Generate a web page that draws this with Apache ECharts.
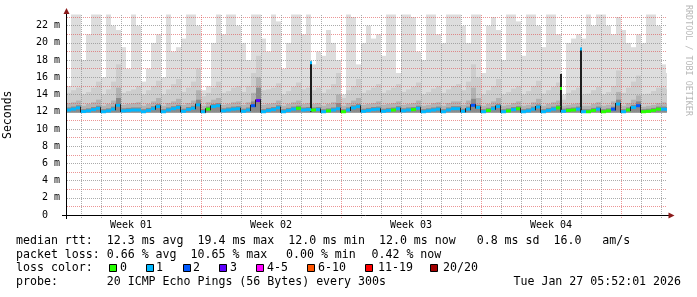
<!DOCTYPE html>
<html><head><meta charset="utf-8">
<script src="https://cdn.jsdelivr.net/npm/echarts@6/dist/echarts.min.js"></script>
<style>html,body{margin:0;padding:0;background:#fff}#c{width:697px;height:297px}</style>
</head><body><div id="c"></div>
<script>
// ---------------- data ----------------
const weekLabels = ['Week 01', 'Week 02', 'Week 03', 'Week 04'];
const weekLabelDays = [3.5, 10.5, 17.5, 24.5];          // days since start of Week 01
const dayLines = [1,2,3,4,5,6,7,8,9,10,11,12,13,14,15,16,17,18,19,20,21,22,23,24,25,26,27,28,29,30];
const weekLineDays = [7, 14, 21, 28];
const xRange = [0.3, 30.3];                               // visible time range (days)
const yMaxMs = 23.3;
const lossLabels = ['0', '1', '2', '3', '4-5', '6-10', '11-19', '20/20'];
const lossColors = ['#26ff00', '#00b8ff', '#0059ff', '#5e00ff', '#ff00ff', '#ff5500', '#ff0000', '#a00000'];

const firstStepDay = 0.25;   // start of first RRD step (days)
const stepDays = 0.25;       // step length (days)
const pingMin = 11.9;        // bottom of the smoke (ms)

// top of the smoke (max ping, ms) per step
const pingMax = [
  15.0, 23.3, 23.3, 18, 21, 23.3, 23.3, 16, 23.3, 22,
  21.5, 19.5, 17, 23.3, 22, 15.5, 17, 20, 21, 16,
  23.3, 19, 19.5, 20.5, 23.3, 23.3, 22, 14.5, 15, 20,
  23.3, 21, 23.3, 23.3, 22, 20, 18, 23.3, 23.3, 20.5,
  19, 23.3, 22.5, 17, 20, 23.3, 23.3, 21, 23.3, 17.5,
  19, 18.5, 21.5, 20, 18, 14, 23.3, 23, 17.5, 20,
  22, 20.5, 21, 18.5, 23.3, 23.3, 16.5, 23.3, 23.3, 23,
  19, 18, 23.3, 23.3, 21, 20, 23.3, 23.3, 23.3, 22,
  20, 23.3, 23.3, 16.5, 22, 23, 21.5, 18, 23.3, 23.3,
  22.5, 18.5, 23.3, 23.3, 22, 19.5, 23.3, 23.3, 21, 14,
  20, 20.5, 21, 20.5, 23.3, 22, 23.3, 23.3, 22, 21,
  23, 21.5, 20, 19.5, 21, 20, 23.3, 23.3, 22, 17.5,
  16.5
];
// upper smoke band top (ms)
const pingUpper = [
  14.2, 14.5, 14.8,
  14.0, 14.3, 14.8, 15.5,  14.0, 14.6, 15.5, 17.5,  14.2, 14.4, 14.6, 15.0,  14.0, 14.5, 15.0, 15.6,
  14.0, 14.6, 15.2, 15.8,  14.3, 14.8, 15.5, 17.0,  13.8, 14.2, 14.8, 15.5,  14.2, 14.4, 14.8, 15.0,
  14.3, 15.0, 16.5, 18.5,  14.5, 14.6, 14.8, 15.3,  14.0, 14.4, 14.9, 15.4,  14.6, 14.8, 14.5, 14.8,
  14.2, 14.6, 15.2, 16.5,  13.6, 14.5, 15.0, 15.8,  14.2, 14.5, 14.8, 15.2,  14.2, 14.5, 14.8, 15.2,
  14.3, 14.6, 14.9, 15.4,  14.0, 14.3, 14.7, 15.0,  14.2, 14.6, 15.0, 15.2,  14.5, 15.5, 17.5, 16.0,
  14.0, 14.5, 15.0, 15.8,  14.0, 14.3, 14.7, 15.0,  14.0, 14.4, 15.0, 15.6,  14.1, 14.5, 14.9, 15.4,
  13.4, 14.2, 14.5, 14.8,  14.0, 14.1, 14.5, 14.9,  14.0, 14.3, 15.0, 16.8,  14.2, 14.8, 15.5, 16.2,
  14.0, 14.1, 14.4, 14.8,
  14.8, 14.6
];
// middle smoke band top (ms)
const pingMid = [
  13.0, 13.1, 13.3,
  12.7, 12.9, 13.1, 13.4,  12.7, 12.9, 13.3, 14.8,  12.8, 12.9, 13.0, 13.1,  12.7, 12.9, 13.2, 13.6,
  12.7, 13.0, 13.2, 13.5,  12.8, 13.0, 13.3, 14.5,  12.7, 13.1, 13.4, 13.6,  12.8, 12.9, 13.1, 13.2,
  12.8, 13.1, 14.2, 16.0,  12.8, 12.9, 13.0, 13.3,  12.7, 12.9, 13.1, 13.3,  12.9, 13.0, 12.9, 13.0,
  12.7, 12.9, 13.1, 14.0,  12.7, 13.0, 13.3, 13.6,  12.8, 12.9, 13.0, 13.2,  12.8, 12.9, 13.0, 13.2,
  12.8, 12.9, 13.0, 13.3,  12.7, 12.8, 13.0, 13.1,  12.7, 13.0, 13.2, 13.2,  12.8, 13.3, 14.8, 13.6,
  12.7, 12.9, 13.2, 13.6,  12.7, 12.8, 13.0, 13.2,  12.7, 12.8, 13.1, 13.5,  12.7, 12.9, 13.1, 13.3,
  12.7, 12.8, 12.9, 13.0,  12.7, 12.7, 12.9, 13.1,  12.7, 12.8, 13.2, 14.3,  12.7, 13.0, 13.4, 13.9,
  12.6, 12.7, 12.8, 13.0,
  13.1, 13.0
];
// dense core of the smoke (ms)
const pingCore = [
  12.5, 12.6, 12.75,
  12.3, 12.4, 12.55, 12.7,  12.3, 12.4, 12.6, 13.6,  12.4, 12.45, 12.5, 12.5,  12.3, 12.45, 12.65, 12.9,
  12.3, 12.5, 12.65, 12.8,  12.35, 12.55, 12.7, 13.4,  12.3, 12.6, 12.9, 13.0,  12.4, 12.5, 12.6, 12.65,
  12.35, 12.5, 13.2, 14.8,  12.3, 12.45, 12.55, 12.75,  12.3, 12.45, 12.6, 12.7,  12.5, 12.55, 12.5, 12.55,
  12.3, 12.4, 12.5, 13.0,  12.3, 12.5, 12.75, 12.9,  12.35, 12.45, 12.55, 12.6,  12.35, 12.45, 12.5, 12.65,
  12.4, 12.5, 12.55, 12.7,  12.3, 12.4, 12.5, 12.6,  12.3, 12.5, 12.65, 12.65,  12.35, 12.6, 13.5, 12.8,
  12.3, 12.45, 12.65, 12.9,  12.3, 12.4, 12.55, 12.65,  12.3, 12.4, 12.6, 12.85,  12.3, 12.45, 12.6, 12.75,
  12.35, 12.45, 12.5, 12.6,  12.3, 12.3, 12.45, 12.6,  12.3, 12.4, 12.6, 13.4,  12.3, 12.5, 12.8, 13.2,
  12.3, 12.35, 12.45, 12.6,
  12.6, 12.55
];
// median rtt (ms)
const median = [
  12.2, 12.3, 12.45,
  12.02, 12.1, 12.25, 12.4,  12.0, 12.1, 12.3, 12.75,  12.1, 12.15, 12.2, 12.2,  12.0, 12.15, 12.35, 12.6,
  12.0, 12.2, 12.35, 12.5,  12.05, 12.25, 12.4, 12.8,  12.0, 12.3, 12.6, 12.7,  12.1, 12.2, 12.3, 12.35,
  12.05, 12.2, 12.7, 13.3,  12.0, 12.15, 12.25, 12.45,  12.0, 12.15, 12.3, 12.4,  12.2, 12.25, 12.2, 12.25,
  12.0, 12.1, 12.2, 12.35,  12.0, 12.2, 12.45, 12.6,  12.05, 12.15, 12.25, 12.3,  12.05, 12.15, 12.2, 12.35,
  12.1, 12.2, 12.25, 12.4,  12.0, 12.1, 12.2, 12.3,  12.0, 12.2, 12.35, 12.35,  12.05, 12.3, 12.75, 12.5,
  12.0, 12.15, 12.35, 12.6,  12.0, 12.1, 12.25, 12.35,  12.0, 12.1, 12.3, 12.55,  12.0, 12.15, 12.3, 12.45,
  12.05, 12.15, 12.2, 12.3,  12.0, 12.0, 12.15, 12.3,  12.0, 12.1, 12.3, 12.9,  12.0, 12.2, 12.5, 12.7,
  12.0, 12.05, 12.15, 12.3,
  12.3, 12.25
];
// loss colour class per step (index into lossLabels)
const loss = [
  1,1,1,1,1,1,1,1,1,1,
  1,1,1,1,1,1,1,1,1,1,
  1,1,1,1,1,1,1,1,0,1,
  1,1,1,1,1,1,1,2,3,1,
  1,1,1,1,1,1,0,1,1,0,
  1,1,0,1,1,0,1,1,1,1,
  1,1,1,1,1,0,1,1,1,0,
  1,1,1,1,1,1,1,1,1,1,
  1,2,1,1,0,1,1,1,0,1,
  0,1,1,1,1,1,1,1,0,1,
  0,0,1,1,0,0,1,0,0,2,
  1,1,0,1,2,0,0,0,0,1,
  1
];
// short median spikes
const spikeDay = [12.485, 25.02, 26.0];
const spikeTop = [17.8, 16.4, 19.35];
const spikeMedian = [17.7, 14.7, 19.3];
const spikeLoss = [1, 0, 1];

// ---------------- styles / layout ----------------
const MONO = '"DejaVu Sans Mono", monospace';
const smokeShades = ['#dddddd', '#cdcdcd', '#b3b3b3', '#8a8a8a'];
const gridColor = 'rgba(143,143,143,0.75)';
const mgridColor = 'rgba(222,79,79,0.6)';
const legendFont = '11.6px ' + MONO;
const legendBoxX = [109, 146, 183, 219, 256, 307, 365, 430];
const legendTextX = [120, 156, 193, 230, 267, 318, 378, 443];

// ---------------- build ----------------
const smokeData = pingMax.map((v, i) => {
  const t0 = firstStepDay + i * stepDays;
  return [t0, t0 + stepDays, pingMin, v, pingUpper[i], pingMid[i], pingCore[i]];
});
const medianData = median.map((v, i) => {
  const t0 = firstStepDay + i * stepDays;
  return [t0, t0 + stepDays, v, i > 0 ? median[i - 1] : v, loss[i]];
});
const spikeData = spikeDay.map((d, i) => [d, spikeTop[i], spikeMedian[i], spikeLoss[i]]);
const vGridData = dayLines.map(d => [d, weekLineDays.indexOf(d) >= 0 ? 1 : 0]);

const chart = echarts.init(document.getElementById('c'), null, {renderer: 'canvas'});

function clip(r, cs) { return echarts.graphic.clipRectByRect(r, cs); }

const graphics = [];
// axis lines and arrows
graphics.push({type: 'line', shape: {x1: 62, y1: 215.5, x2: 669, y2: 215.5}, style: {stroke: '#000', lineWidth: 1}, z: 100});
graphics.push({type: 'line', shape: {x1: 66.5, y1: 13, x2: 66.5, y2: 219}, style: {stroke: '#000', lineWidth: 1}, z: 100});
graphics.push({type: 'polygon', shape: {points: [[66.5, 8], [63.5, 14], [69.5, 14]]}, style: {fill: '#8b1a1a'}, z: 101});
graphics.push({type: 'polygon', shape: {points: [[674.5, 215.5], [668.5, 212.5], [668.5, 218.5]]}, style: {fill: '#8b1a1a'}, z: 101});
// watermark
graphics.push({type: 'text', x: 688.5, y: 5, rotation: -Math.PI / 2,
  style: {text: 'RRDTOOL / TOBI OETIKER', font: '8.4px ' + MONO, fill: '#b8b8b8', align: 'left', verticalAlign: 'middle'}});
// legend rows
graphics.push({type: 'text', x: 16, y: 240.7, style: {text: 'median rtt:  12.3 ms avg  19.4 ms max  12.0 ms min  12.0 ms now   0.8 ms sd  16.0   am/s', font: legendFont, fill: '#000', verticalAlign: 'middle'}});
graphics.push({type: 'text', x: 16, y: 254.5, style: {text: 'packet loss: 0.66 % avg  10.65 % max', font: legendFont, fill: '#000', verticalAlign: 'middle'}});
graphics.push({type: 'text', x: 286, y: 254.5, style: {text: '0.00 % min', font: legendFont, fill: '#000', verticalAlign: 'middle'}});
graphics.push({type: 'text', x: 371.5, y: 254.5, style: {text: '0.42 % now', font: legendFont, fill: '#000', verticalAlign: 'middle'}});
graphics.push({type: 'text', x: 16, y: 268.2, style: {text: 'loss color:', font: legendFont, fill: '#000', verticalAlign: 'middle'}});
lossLabels.forEach((lab, i) => {
  graphics.push({type: 'rect', shape: {x: legendBoxX[i] + 0.5, y: 264.5, width: 7, height: 7}, style: {fill: lossColors[i], stroke: '#000', lineWidth: 1}});
  graphics.push({type: 'text', x: legendTextX[i], y: 268.2, style: {text: lab, font: legendFont, fill: '#000', verticalAlign: 'middle'}});
});
graphics.push({type: 'text', x: 16, y: 282, style: {text: 'probe:       20 ICMP Echo Pings (56 Bytes) every 300s', font: legendFont, fill: '#000', verticalAlign: 'middle'}});
graphics.push({type: 'text', x: 681, y: 282, style: {text: 'Tue Jan 27 05:52:01 2026', font: legendFont, fill: '#000', align: 'right', verticalAlign: 'middle'}});

const option = {
  animation: false,
  backgroundColor: '#ffffff',
  grid: {left: 67, right: 30, top: 14.5, bottom: 82, containLabel: false, outerBoundsMode: 'none'},
  xAxis: {
    type: 'value', min: xRange[0], max: xRange[1],
    axisLine: {show: false}, axisTick: {show: false}, splitLine: {show: false},
    axisLabel: {
      customValues: weekLabelDays,
      formatter: v => { const k = weekLabelDays.findIndex(d => Math.abs(d - v) < 1e-6); return k >= 0 ? weekLabels[k] : ''; },
      fontFamily: MONO, fontSize: 10, color: '#000', margin: 5
    }
  },
  yAxis: {
    type: 'value', min: 0, max: yMaxMs, interval: 1, z: 3,
    name: 'Seconds', nameLocation: 'middle', nameGap: 53, nameRotate: 90,
    nameTextStyle: {fontFamily: MONO, fontSize: 11.5, color: '#000'},
    axisLine: {show: false}, axisTick: {show: false},
    axisLabel: {
      formatter: v => (Math.abs(v % 2) < 1e-6 && v <= 22) ? (v === 0 ? '0  ' : v + ' m') : '',
      fontFamily: MONO, fontSize: 10, color: '#000', margin: 7
    },
    splitLine: {show: true, showMaxLine: false, showMinLine: false,
      lineStyle: {color: [mgridColor, gridColor], type: [1, 1], width: 1}}
  },
  series: [
    {
      type: 'custom', name: 'smoke', z: 2, silent: true,
      data: smokeData, encode: {x: [0, 1], y: [2, 3]},
      renderItem: (params, api) => {
        const cs = params.coordSys;
        const x0 = Math.round(api.coord([api.value(0), 0])[0]);
        const x1 = Math.round(api.coord([api.value(1), 0])[0]);
        const yb = api.coord([0, api.value(2)])[1];
        const children = [];
        for (let k = 0; k < 4; k++) {
          const yt = api.coord([0, api.value(3 + k)])[1];
          const r = clip({x: x0, y: yt, width: x1 - x0, height: yb - yt}, cs);
          if (r) children.push({type: 'rect', shape: r, style: {fill: smokeShades[k]}});
        }
        return {type: 'group', children};
      }
    },
    {
      type: 'custom', name: 'vgrid', z: 3, silent: true,
      data: vGridData, encode: {x: 0},
      renderItem: (params, api) => {
        const p0 = api.coord([api.value(0), 0]);
        const p1 = api.coord([api.value(0), yMaxMs]);
        const x = Math.round(p0[0]) + 0.5;
        return {type: 'line', shape: {x1: x, y1: p0[1] + 3, x2: x, y2: p1[1]},
          style: {stroke: api.value(1) ? mgridColor : gridColor, lineWidth: 1, lineDash: [1, 1]}};
      }
    },
    {
      type: 'custom', name: 'spikes', z: 4, silent: true,
      data: spikeData, encode: {x: 0, y: 1},
      renderItem: (params, api) => {
        const cs = params.coordSys;
        const xa = Math.round(api.coord([api.value(0) - 0.05, 0])[0]);
        const xb = Math.round(api.coord([api.value(0) + 0.05, 0])[0]);
        const yb = api.coord([0, 12.0])[1];
        const yt = api.coord([0, api.value(1)])[1];
        const ym = api.coord([0, api.value(2)])[1];
        const children = [];
        const r = clip({x: xa, y: yt, width: xb - xa, height: yb - yt}, cs);
        if (r) children.push({type: 'rect', shape: r, style: {fill: '#1e1e1e'}});
        children.push({type: 'rect', shape: {x: xa, y: ym - 1.5, width: xb - xa, height: 3}, style: {fill: lossColors[api.value(3)]}});
        return {type: 'group', children};
      }
    },
    {
      type: 'custom', name: 'median', z: 5, silent: true,
      data: medianData, encode: {x: [0, 1], y: 2},
      renderItem: (params, api) => {
        const cs = params.coordSys;
        const x0 = Math.round(api.coord([api.value(0), 0])[0]);
        const x1 = Math.round(api.coord([api.value(1), 0])[0]);
        const y = api.coord([0, api.value(2)])[1];
        const yp = api.coord([0, api.value(3)])[1];
        const children = [];
        if (Math.abs(yp - y) > 2) {
          const c = clip({x: x0 - 1, y: Math.min(y, yp) - 1, width: 1, height: Math.abs(yp - y) + 2}, cs);
          if (c) children.push({type: 'rect', shape: c, style: {fill: '#222'}});
        }
        const r = clip({x: x0, y: y - 1.5, width: x1 - x0, height: 3}, cs);
        if (r) children.push({type: 'rect', shape: r, style: {fill: lossColors[api.value(4)]}});
        return {type: 'group', children};
      }
    }
  ],
  graphic: graphics
};
chart.setOption(option);
</script>
</body></html>
